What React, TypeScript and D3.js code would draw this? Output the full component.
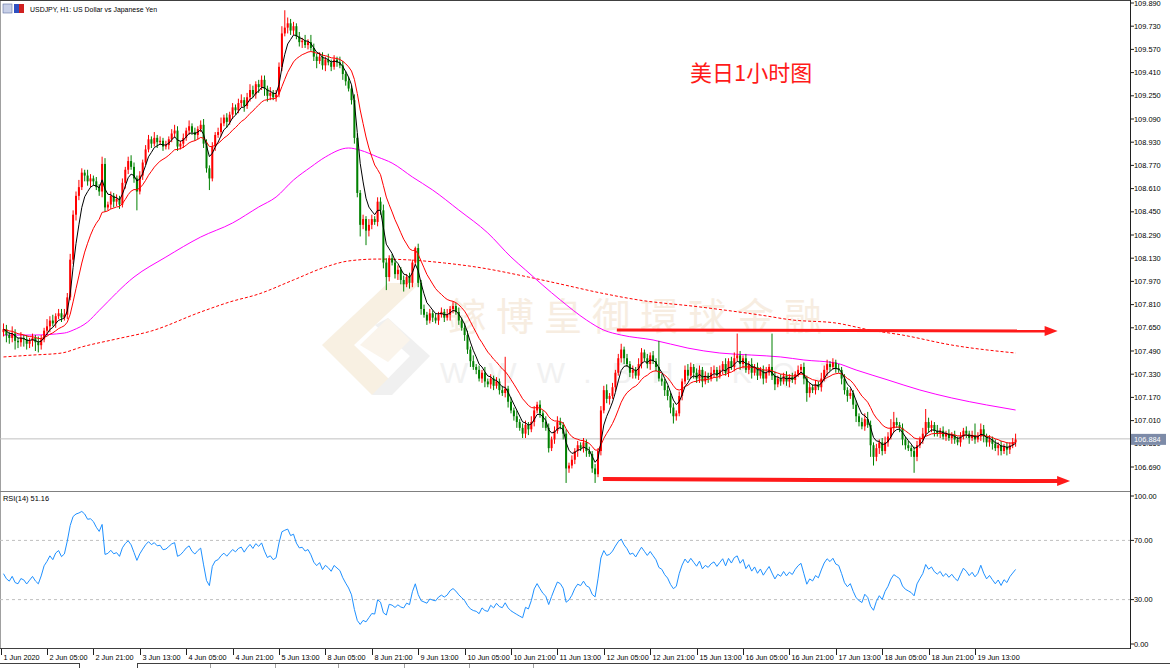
import React from 'react';
import * as d3 from 'd3';

const W = 1170;
const H = 668;

// Candle closes in hundredths above BASE price (H1 bars, left to right)
const BASE = 106;
const firstOpen = 162;
const closes = [
  164,160,158,161,156,155,158,157,154,156,
  158,155,153,157,163,166,170,168,173,175,
  172,174,186,212,243,256,262,272,270,266,
  268,266,262,259,278,248,250,256,252,254,
  250,265,274,280,276,268,259,270,279,288,
  295,292,296,293,294,290,291,295,299,301,
  290,292,296,301,304,300,298,302,305,292,
  275,268,290,298,300,306,310,307,312,317,
  315,320,322,318,324,329,326,333,331,336,
  330,325,327,324,326,345,368,372,375,370,
  373,366,362,363,360,362,358,352,349,352,
  346,350,348,345,350,348,346,340,335,330,
  322,296,258,236,240,232,236,240,238,252,
  246,210,200,213,210,202,205,198,195,200,
  196,210,220,196,178,174,170,175,172,170,
  174,176,172,174,178,180,176,170,165,160,
  150,142,138,136,130,134,128,126,130,125,
  128,122,120,123,114,108,104,100,96,92,
  98,95,100,108,112,106,100,96,82,88,
  94,100,98,92,68,70,74,80,84,82,
  86,80,78,68,64,80,108,122,116,118,
  124,134,144,150,144,140,134,136,132,140,
  148,144,140,146,142,138,130,128,122,118,
  110,104,106,118,128,136,132,138,134,130,
  136,128,132,130,134,136,132,136,140,134,
  142,138,144,146,140,144,136,140,134,138,
  132,136,130,134,138,132,126,130,128,132,
  128,131,129,133,136,138,130,120,124,122,
  126,124,130,136,140,138,141,137,136,130,
  122,118,120,112,104,100,97,102,98,84,
  76,82,86,80,86,90,96,100,98,96,
  88,84,82,80,76,84,88,92,100,96,
  98,94,92,94,90,92,89,91,88,86,
  90,94,92,89,91,88,90,95,90,86,
  88,85,82,84,80,83,81,84,86,88,
];
// upper / lower wick lengths in hundredths
const wickUp = [
  4,3,2,5,3,2,4,2,3,2, 3,2,4,3,2,5,3,4,2,3, 3,4,3,4,3,3,5,3,2,4, 3,2,3,2,5,4,2,3,2,3,
  2,3,2,3,4,3,2,3,2,3, 3,2,4,2,3,2,3,2,3,4, 3,2,3,2,4,2,3,2,3,4, 3,2,3,2,3,4,2,3,2,3,
  2,3,4,2,3,4,3,2,3,3, 3,2,4,2,3,3,5,12,4,3, 3,2,3,2,4,2,5,3,2,3, 3,2,4,2,3,2,4,3,2,3,
  2,4,3,2,3,2,4,3,2,3, 3,4,3,2,3,2,3,2,3,2, 3,2,1,3,2,3,2,3,2,3, 2,3,2,4,2,3,2,3,2,3,
  3,2,4,2,3,2,4,2,3,2, 3,2,3,22,2,3,2,4,2,3, 3,2,4,3,2,3,2,4,3,2, 3,4,3,2,3,2,3,2,3,2,
  3,2,3,2,3,2,3,3,4,2, 3,2,3,4,2,3,2,3,2,4, 3,2,3,2,3,2,18,3,2,3, 2,3,2,3,2,3,4,3,2,3,
  3,2,3,2,4,3,2,3,2,4, 2,3,4,15,3,2,3,2,4,2, 3,2,3,4,2,23,3,2,3,2, 3,2,3,2,3,2,3,2,3,2,
  3,2,4,3,3,2,3,2,3,2, 3,2,3,2,3,2,3,4,5,3, 2,3,2,3,4,3,6,7,3,2, 3,2,3,2,3,3,2,4,9,3,
  3,2,4,2,3,2,3,2,3,2, 3,2,3,2,3,8,3,4,3,2, 3,2,3,2,3,2,3,2,3,4,
];
const wickDn = [
  3,5,4,3,6,4,3,5,4,3, 4,6,5,3,2,3,4,2,3,2, 3,2,3,2,3,4,3,2,4,3, 4,3,2,3,4,3,2,3,4,3,
  3,2,4,3,2,3,13,2,3,2, 2,3,2,4,2,3,2,3,2,3, 3,2,3,2,3,2,4,3,2,3, 3,8,2,3,2,3,2,4,2,3,
  3,2,3,4,2,3,2,3,4,2, 5,4,3,2,3,2,3,2,4,3, 3,2,3,4,2,3,2,3,5,2, 3,4,2,3,2,3,2,4,3,2,
  3,4,3,8,3,10,4,3,2,3, 3,4,9,3,2,3,4,3,5,2, 4,3,2,3,4,2,3,2,3,2, 3,2,3,2,4,3,2,3,2,4,
  3,4,2,3,2,3,4,2,3,3, 2,3,2,3,4,2,3,4,2,3, 3,4,2,3,2,3,4,2,3,2, 3,2,3,4,10,3,2,3,4,2,
  3,4,2,3,6,2,3,2,3,4, 2,3,2,3,4,2,3,4,2,3, 3,2,3,4,2,3,2,3,4,3, 4,5,3,2,3,2,3,2,4,3,
  3,4,2,3,2,3,4,2,3,2, 3,2,3,2,4,3,2,3,4,2, 3,2,4,3,2,3,4,2,3,2, 3,4,2,3,2,3,4,6,3,2,
  3,2,3,2,4,3,2,3,2,4, 3,4,2,3,4,3,2,3,2,8, 6,3,4,3,2,3,2,3,2,3, 4,3,2,4,11,3,2,3,2,3,
  3,4,2,3,2,3,2,4,3,2, 3,2,3,4,2,3,2,3,4,3, 3,4,2,5,3,2,4,3,2,3,
];

// Slow moving averages: [bar, price]
const magentaMA: [number, number][] = [
  [0,107.60],[10,107.60],[21,107.614],[24,107.634],[29,107.69],[33,107.77],[45,108.00],
  [56,108.138],[68,108.276],[79,108.373],[88,108.483],[94,108.552],[100,108.669],[106,108.759],
  [111,108.828],[119,108.89],[123,108.875],[129,108.828],[134,108.786],[141,108.69],[148,108.60],
  [157,108.462],[167,108.304],[175,108.138],[180,108.049],[192,107.842],[201,107.704],[207,107.634],
  [213,107.60],[224,107.566],[236,107.51],[247,107.476],[258,107.462],[268,107.449],[276,107.428],
  [287,107.407],[294,107.359],[305,107.29],[316,107.221],[327,107.166],[339,107.118],[349,107.083],
];
const dashedMA: [number, number][] = [
  [0,107.449],[10,107.462],[20,107.476],[27,107.518],[39,107.573],[51,107.628],[68,107.759],
  [78,107.828],[88,107.883],[100,107.98],[111,108.069],[119,108.111],[129,108.124],[140,108.118],
  [152,108.097],[163,108.069],[181,108.0],[192,107.952],[206,107.89],[219,107.842],[240,107.794],
  [261,107.738],[272,107.704],[287,107.683],[299,107.634],[310,107.60],[327,107.531],[349,107.476],
];

const priceTicks = [
  109.89,109.73,109.57,109.41,109.25,109.09,108.93,108.77,108.61,108.45,108.29,
  108.13,107.97,107.81,107.65,107.49,107.33,107.17,107.01,106.85,106.69,
];
const currentPrice = 106.884;
const timeLabels = [
  '1 Jun 2020','2 Jun 05:00','2 Jun 21:00','3 Jun 13:00','4 Jun 05:00','4 Jun 21:00',
  '5 Jun 13:00','8 Jun 05:00','8 Jun 21:00','9 Jun 13:00','10 Jun 05:00','10 Jun 21:00',
  '11 Jun 13:00','12 Jun 05:00','12 Jun 21:00','15 Jun 13:00','16 Jun 05:00','16 Jun 21:00',
  '17 Jun 13:00','18 Jun 05:00','18 Jun 21:00','19 Jun 13:00',
];
const timeBars = [-0.8,15,31,47,63,79,95,111,127,143,159,175,191,207,223,239,255,271,287,303,319,335];
const rsiTicks = [100, 70, 30, 0];
const rsiLevels = [70, 30];
// average gain / loss carried in from the bars before the visible range
const rsiSeed = { gain: 0.019, loss: 0.021 };
const rsiTitle = 'RSI(14) 51.16';
const chartTitle = 'USDJPY, H1:  US Dollar vs Japanese Yen';
const note = '美日1小时图';
// annotation arrows: [bar, price] start and tip
const arrows: { from: [number, number]; to: [number, number]; w: number }[] = [
  { from: [211.5, 107.635], to: [363.5, 107.628], w: 3 },
  { from: [206.7, 106.607], to: [367.8, 106.593], w: 4 },
];

const FONT = '"Liberation Sans", Arial, sans-serif';

function ema(vals: number[], n: number) {
  const k = 2 / (n + 1);
  let e = vals[0];
  return vals.map((v, i) => (e = i === 0 ? v : e + k * (v - e)));
}
function rsi(vals: number[], n: number) {
  let ag = rsiSeed.gain, al = rsiSeed.loss;
  const out = [100 - 100 / (1 + ag / al)];
  for (let i = 1; i < vals.length; i++) {
    const ch = vals[i] - vals[i - 1];
    const g = Math.max(ch, 0), l = Math.max(-ch, 0);
    ag = (ag * (n - 1) + g) / n;
    al = (al * (n - 1) + l) / n;
    out.push(al === 0 ? 100 : 100 - 100 / (1 + ag / al));
  }
  return out;
}

export default function App() {
  const xs = d3.scaleLinear().domain([0, 349]).range([3.5, 1015.6]);
  const ys = d3.scaleLinear().domain([106.69, 109.89]).range([467, 3]);
  const yr = d3.scaleLinear().domain([0, 100]).range([644, 496]);
  const prices = closes.map((v) => BASE + v / 100);
  const candles = prices.map((c, i) => {
    const o = i === 0 ? BASE + firstOpen / 100 : prices[i - 1];
    return { i, o, c, hi: Math.max(o, c) + wickUp[i] / 100, lo: Math.min(o, c) - wickDn[i] / 100 };
  });
  const fast = ema(prices, 5);
  const mid = ema(prices, 15);
  const r = rsi(prices, 14);
  const line = d3.line<number>().x((_, i) => xs(i)).y((d) => ys(d));
  const lineP = d3.line<[number, number]>().x((d) => xs(d[0])).y((d) => ys(d[1])).curve(d3.curveMonotoneX);
  const lineR = d3.line<number>().x((_, i) => xs(i)).y((d) => yr(d));
  const axisX = 1130;
  const cy = ys(currentPrice);

  return (
    <svg width={W} height={H} style={{ position: 'absolute', left: 0, top: 0, background: '#fff' }} fontFamily={FONT}>
      <rect x={0} y={0} width={W} height={H} fill="#fff" />
      <defs>
        <clipPath id="main"><rect x={1} y={1} width={axisX - 1} height={489} /></clipPath>
        <clipPath id="sub"><rect x={1} y={493} width={axisX - 1} height={155} /></clipPath>
        <clipPath id="under"><rect x={axisX + 1} y={cy + 6} width={40} height={10} /></clipPath>
      </defs>
      {/* watermark */}
      <g opacity={0.5}>
        <polygon points="322,345 388,283 420,283 354,345 392,382 372,395" fill="#f3e2c6" />
        <polygon points="388,318 430,356 392,395 372,395 410,356 375,325" fill="#e2e2e2" />
        <polygon points="360,345 388,318 410,340 388,362" fill="#f6ead8" />
        <text x={448} y={330} fontSize={38} fill="#f0dcc4" fontFamily='"Noto Sans CJK SC", sans-serif' letterSpacing={10}>鎵博皇御環球金融</text>
        <text x={440} y={383} fontSize={30} fill="#e4e4e4" letterSpacing={20}>WWW.BHFKQJ</text>
      </g>
      {/* frame */}
      <line x1={0.5} y1={0} x2={0.5} y2={648} stroke="#a0a0a0" />
      <line x1={0} y1={0.5} x2={axisX} y2={0.5} stroke="#404040" />
      <line x1={0} y1={491.5} x2={axisX} y2={491.5} stroke="#808080" />
      <line x1={0} y1={648.5} x2={axisX} y2={648.5} stroke="#404040" />
      <line x1={axisX + 0.5} y1={0} x2={axisX + 0.5} y2={649} stroke="#202020" />
      {/* current price line */}
      <line x1={0} y1={cy} x2={axisX} y2={cy} stroke="#c0c0c0" />
      <g clipPath="url(#main)">
        <path d={lineP(dashedMA) || ''} fill="none" stroke="#ff0000" strokeWidth={1} strokeDasharray="3,2" />
        <path d={lineP(magentaMA) || ''} fill="none" stroke="#ff00ff" strokeWidth={1} />
        {candles.map((d) => {
          const up = d.c >= d.o;
          const col = up ? '#ff0000' : '#008000';
          const top = ys(Math.max(d.o, d.c));
          const bot = ys(Math.min(d.o, d.c));
          return (
            <g key={d.i}>
              <line x1={xs(d.i)} x2={xs(d.i)} y1={ys(d.hi)} y2={ys(d.lo)} stroke={col} strokeWidth={1} />
              <rect x={xs(d.i) - 1} y={top} width={2} height={Math.max(bot - top, 1)} fill={col} />
            </g>
          );
        })}
        <path d={line(mid) || ''} fill="none" stroke="#ff0000" strokeWidth={1} />
        <path d={line(fast) || ''} fill="none" stroke="#000" strokeWidth={1} />
        {arrows.map((a, k) => {
          const x1 = xs(a.from[0]), y1 = ys(a.from[1]), x2 = xs(a.to[0]), y2 = ys(a.to[1]);
          return (
            <g key={k}>
              <line x1={x1} y1={y1} x2={x2 - 12} y2={y2} stroke="#ff1a1a" strokeWidth={a.w} />
              <polygon points={`${x2},${y2} ${x2 - 13},${y2 - 5} ${x2 - 13},${y2 + 5}`} fill="#ff1a1a" />
            </g>
          );
        })}
      </g>
      {/* title and note */}
      <g>
        <rect x={3} y={4} width={9} height={9} fill="#c8d0e8" stroke="#6070a0" strokeWidth={0.6} />
        <rect x={14} y={4} width={5} height={9} fill="#3050c0" />
        <rect x={19} y={4} width={5} height={9} fill="#d02020" />
        <text x={30} y={12} fontSize={7.6} fill="#000" textLength={127} lengthAdjust="spacingAndGlyphs">{chartTitle}</text>
      </g>
      <text x={690} y={81} fontSize={22} fill="#ff1a1a" fontFamily='"Noto Sans CJK SC", sans-serif'>{note}</text>
      {/* price axis */}
      {priceTicks.map((p) => (
        <g key={p} clipPath={Math.abs(p - currentPrice) < 0.05 ? 'url(#under)' : undefined}>
          <line x1={axisX} x2={axisX + 4} y1={ys(p)} y2={ys(p)} stroke="#202020" />
          <text x={axisX + 4} y={ys(p) + 2.6} fontSize={7.4} fill="#000">{p.toFixed(3)}</text>
        </g>
      ))}
      <rect x={axisX + 1} y={cy - 5} width={35} height={11} fill="#7d8ba8" />
      <text x={axisX + 4} y={cy + 3} fontSize={7.4} fill="#fff">{currentPrice.toFixed(3)}</text>
      {/* RSI panel */}
      {rsiLevels.map((l) => (
        <line key={l} x1={0} x2={axisX} y1={yr(l)} y2={yr(l)} stroke="#c0c0c0" strokeDasharray="3,3" />
      ))}
      <g clipPath="url(#sub)">
        <path d={lineR(r) || ''} fill="none" stroke="#1e90ff" strokeWidth={1} />
      </g>
      <text x={3} y={501} fontSize={7.4} fill="#000">{rsiTitle}</text>
      {rsiTicks.map((t) => (
        <g key={t}>
          <line x1={axisX} x2={axisX + 4} y1={yr(t)} y2={yr(t)} stroke="#202020" />
          <text x={axisX + 4} y={yr(t) + 2.6} fontSize={7.4} fill="#000">{t.toFixed(2)}</text>
        </g>
      ))}
      {/* time axis */}
      {timeLabels.map((t, k) => {
        const x = Math.round(xs(timeBars[k])) + 0.5;
        return (
          <g key={t}>
            <line x1={x} x2={x} y1={649} y2={655} stroke="#202020" />
            <text x={x + 2} y={660} fontSize={7.3} fill="#000">{t}</text>
          </g>
        );
      })}
      {/* bottom tab bar */}
      <line x1={0} y1={663.5} x2={79} y2={663.5} stroke="#404040" />
      <line x1={79.5} y1={663} x2={79.5} y2={668} stroke="#404040" />
      <line x1={137} y1={663.5} x2={W} y2={663.5} stroke="#404040" />
      <line x1={137.5} y1={663} x2={137.5} y2={668} stroke="#404040" />
      {[210, 275, 338, 404, 469, 533].map((x) => (
        <line key={x} x1={x + 0.5} x2={x + 0.5} y1={664} y2={668} stroke="#a0a0a0" />
      ))}
    </svg>
  );
}
